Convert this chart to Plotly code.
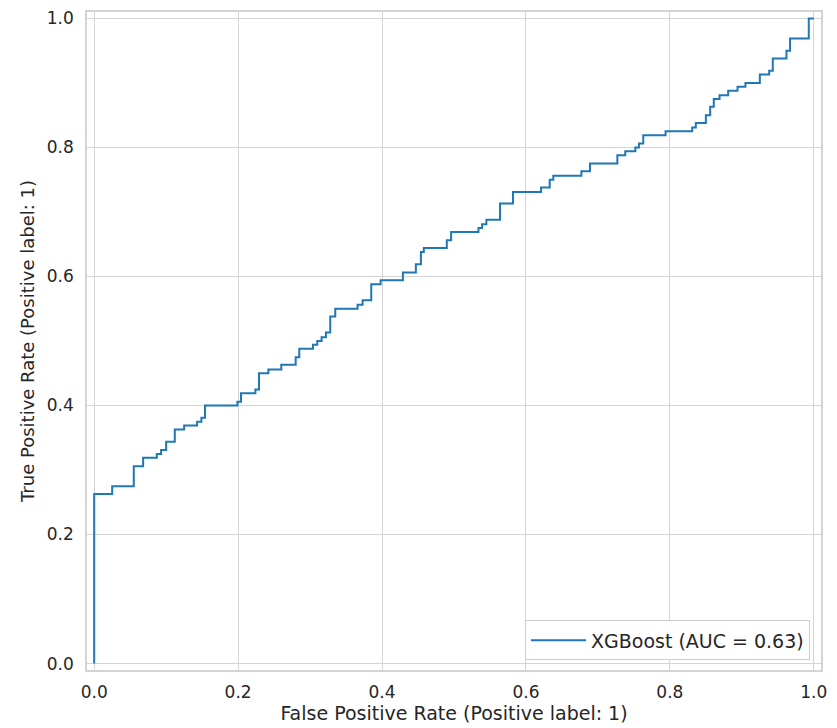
import plotly.graph_objects as go

# ROC curve corner points
fpr = [0.000, 0.000, 0.025, 0.055, 0.068, 0.087, 0.093, 0.100, 0.112, 0.125,
       0.143, 0.149, 0.154, 0.199, 0.204, 0.224, 0.229, 0.242, 0.260, 0.280,
       0.285, 0.304, 0.310, 0.316, 0.322, 0.328, 0.335, 0.366, 0.373, 0.385,
       0.398, 0.429, 0.447, 0.454, 0.458, 0.490, 0.496, 0.534, 0.539, 0.545,
       0.564, 0.582, 0.621, 0.633, 0.638, 0.677, 0.689, 0.727, 0.738, 0.752,
       0.757, 0.763, 0.794, 0.831, 0.836, 0.850, 0.856, 0.861, 0.869, 0.881,
       0.894, 0.905, 0.925, 0.938, 0.943, 0.962, 0.967, 0.993, 1.000]
tpr = [0.000, 0.263, 0.275, 0.306, 0.319, 0.325, 0.331, 0.344, 0.363, 0.369,
       0.375, 0.381, 0.400, 0.406, 0.419, 0.425, 0.450, 0.456, 0.463, 0.475,
       0.488, 0.494, 0.500, 0.506, 0.513, 0.538, 0.550, 0.556, 0.563, 0.588,
       0.594, 0.606, 0.619, 0.638, 0.644, 0.656, 0.669, 0.675, 0.681, 0.688,
       0.713, 0.731, 0.738, 0.750, 0.756, 0.763, 0.775, 0.788, 0.794, 0.800,
       0.806, 0.819, 0.825, 0.831, 0.838, 0.850, 0.863, 0.875, 0.881, 0.888,
       0.894, 0.900, 0.913, 0.919, 0.938, 0.950, 0.969, 1.000, 1.000]
series_name = "XGBoost (AUC = 0.63)"
tick_vals = [0.0, 0.2, 0.4, 0.6, 0.8, 1.0]
x_title = "False Positive Rate (Positive label: 1)"
y_title = "True Positive Rate (Positive label: 1)"

FONT = "DejaVu Sans"
GRID = "#d4d4d4"
TXT = "#262626"

fig = go.Figure()
fig.add_trace(go.Scatter(
    x=fpr, y=tpr, mode="lines", name=series_name,
    line=dict(color="#1f77b4", width=2, shape="hv"),
    showlegend=True,
))

axis_common = dict(
    range=[-0.01, 1.01], tickvals=tick_vals, tickformat=".1f",
    showgrid=True, gridcolor=GRID, gridwidth=1, zeroline=False,
    showline=True, linecolor=GRID, linewidth=1.5, mirror=True,
    ticks="outside", tickcolor="rgba(0,0,0,0)",
    tickfont=dict(family=FONT, size=17, color=TXT),
    automargin=False,
)

fig.update_layout(
    width=837, height=728,
    margin=dict(l=87, r=16, t=12, b=58),
    paper_bgcolor="white", plot_bgcolor="white",
    font=dict(family=FONT, color=TXT),
    xaxis=dict(**axis_common, ticklen=6,
               title=dict(text=x_title, font=dict(family=FONT, size=19, color=TXT), standoff=4)),
    yaxis=dict(**axis_common, ticklen=8,
               title=dict(text=y_title, font=dict(family=FONT, size=18, color=TXT), standoff=8)),
    legend=dict(
        x=0.985, y=0.0145, xanchor="right", yanchor="bottom",
        bgcolor="white", bordercolor="#cccccc", borderwidth=1,
        font=dict(family=FONT, size=19, color=TXT),
        itemwidth=55,
    ),
)

fig.write_html("out.html")
